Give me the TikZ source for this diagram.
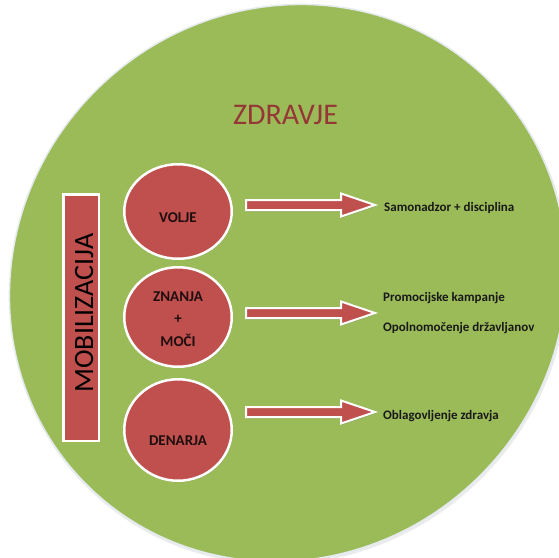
\documentclass[tikz,border=0pt]{standalone}
\usepackage{fontspec}
\setmainfont{Carlito}
\usetikzlibrary{shapes.geometric,shadows}
\definecolor{bggreen}{HTML}{9BBB59}
\definecolor{ored}{HTML}{C0504D}
\definecolor{titlered}{HTML}{953735}
\definecolor{darktext}{HTML}{1E0E0E}
\definecolor{rimgray}{HTML}{E4EAEE}
\tikzset{
  redball/.style={ellipse, draw=white, line width=2.5pt, fill=ored, inner sep=0pt,
    drop shadow={opacity=0.25, shadow xshift=1pt, shadow yshift=-1.5pt}},
  redbar/.style={rectangle, draw=white, line width=2.5pt, fill=ored, inner sep=0pt,
    drop shadow={opacity=0.25, shadow xshift=1pt, shadow yshift=-1.5pt}},
  blockarrow/.style={draw=white, line width=2pt, fill=ored, line join=miter,
    drop shadow={opacity=0.3, shadow xshift=0.8pt, shadow yshift=-1.5pt}},
  balltext/.style={font=\fontsize{15}{17}\selectfont\bfseries, text=darktext, inner sep=0pt, anchor=base},
  labeltext/.style={font=\fontsize{13}{15}\selectfont\bfseries, text=black!90, inner sep=0pt, anchor=base west},
}
\begin{document}
\begin{tikzpicture}[x=1pt,y=-1pt]
\useasboundingbox (0,0) rectangle (559,557);
% big background disc
\fill[rimgray!60!gray, opacity=0.3, rotate around={45:(289,285)}] (289,285) ellipse [x radius=286pt, y radius=273pt];
\draw[fill=bggreen, draw=rimgray, line width=1.5pt, rotate around={45:(288,283)}] (288,283) ellipse [x radius=285pt, y radius=272pt];
% title
\node[font=\fontsize{30}{34}\selectfont, text=titlered, inner sep=0pt, anchor=base] (title) at (285.5,124) {ZDRAVJE};
% vertical bar
\node[redbar, minimum width=35.5pt, minimum height=246.5pt] (bar) at (81,317.5) {};
\node[font=\fontsize{28}{30}\selectfont, text=black, rotate=90, inner sep=0pt, anchor=base] (mobtext) at (93,313) {MOBILIZACIJA};
% circles
\node[redball, minimum width=107.5pt, minimum height=94.5pt] (volje) at (178,211.5) {};
\node[redball, minimum width=107.5pt, minimum height=99.5pt] (znanja) at (178,317) {};
\node[redball, minimum width=107.5pt, minimum height=101.5pt] (denarja) at (178,430) {};
\node[balltext] (tvolje) at (178,222) {VOLJE};
\node[balltext] (tznanja) at (178,301) {ZNANJA};
\node[balltext] (tplus) at (178,323) {+};
\node[balltext] (tmoci) at (178,346) {MOČI};
\node[balltext] (tdenarja) at (178,445) {DENARJA};
% block arrows
\coordinate (a1) at (246,205);
\coordinate (a2) at (246,313);
\coordinate (a3) at (246,412);
\foreach \a in {a1,a2,a3}{
  \draw[blockarrow] (\a) ++(0,-5) -- ++(95,0) -- ++(0,-6.5) -- ++(34,11.5) -- ++(-34,11.5) -- ++(0,-6.5) -- ++(-95,0) -- cycle;
}
% labels
\node[labeltext] (l1) at (384,211.5) {Samonadzor + disciplina};
\node[labeltext] (l2) at (383,301.5) {Promocijske kampanje};
\node[labeltext] (l3) at (383,331.5) {Opolnomočenje državljanov};
\node[labeltext] (l4) at (383,419.3) {Oblagovljenje zdravja};
\end{tikzpicture}
\end{document}
